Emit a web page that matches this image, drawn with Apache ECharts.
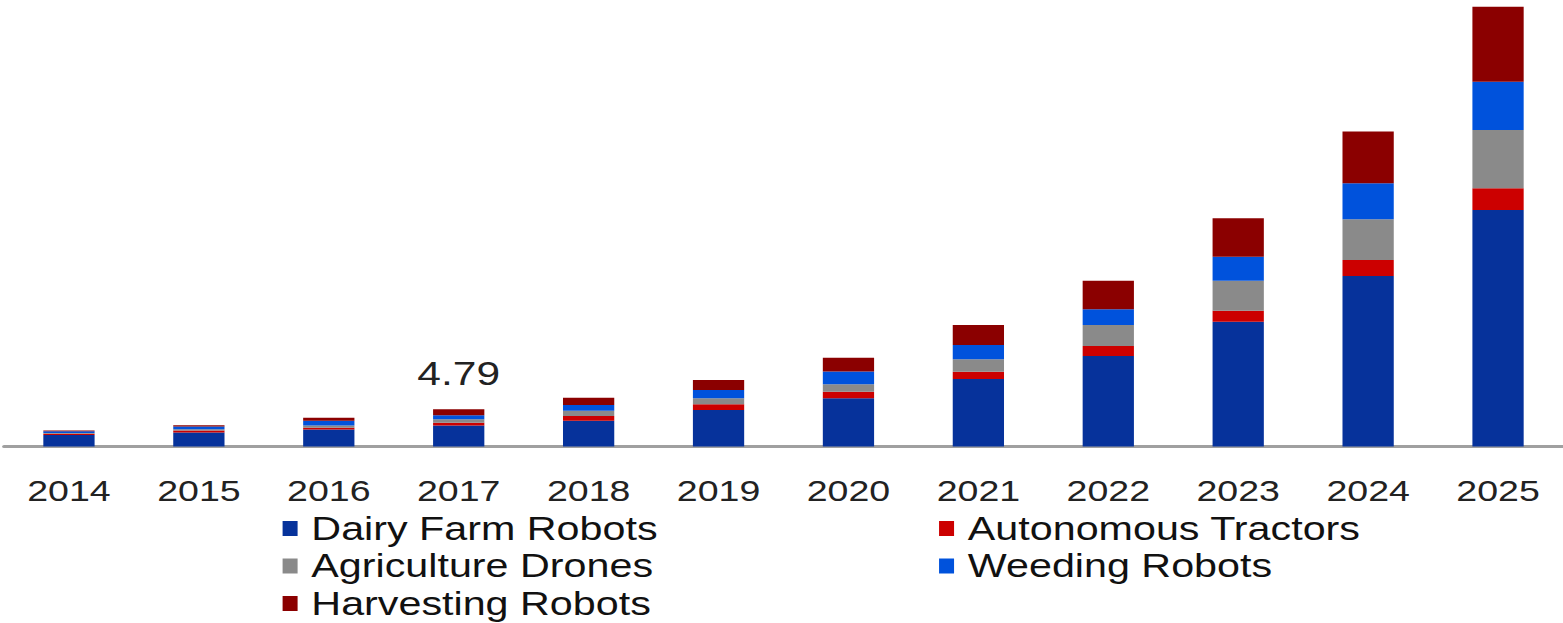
<!DOCTYPE html>
<html>
<head>
<meta charset="utf-8">
<script src="https://cdn.jsdelivr.net/npm/echarts@6/dist/echarts.min.js"></script>
<style>
  html, body { margin: 0; padding: 0; background: #ffffff; overflow: hidden; }
  #wrap { width: 1563px; height: 623px; overflow: hidden; position: relative; }
  #chart { width: 1250px; height: 623px; transform: scaleX(1.2504); transform-origin: 0 0; }
</style>
</head>
<body>
<div id="wrap"><div id="chart"></div></div>
<script>
const categories = ['2014','2015','2016','2017','2018','2019','2020','2021','2022','2023','2024','2025'];
const dairyFarmRobots     = [1.47, 1.79, 2.18, 2.70, 3.31, 4.68, 6.18, 8.65, 11.60, 16.00, 21.86, 30.32];
const autonomousTractors  = [0.15, 0.25, 0.22, 0.35, 0.60, 0.73, 0.85, 0.94, 1.28, 1.41, 2.05, 2.78];
const agricultureDrones   = [0.12, 0.18, 0.30, 0.45, 0.68, 0.77, 0.95, 1.59, 2.69, 3.85, 5.22, 7.47];
const weedingRobots       = [0.20, 0.34, 0.60, 0.50, 0.73, 1.06, 1.62, 1.83, 2.01, 3.08, 4.62, 6.19];
const harvestingRobots    = [0.11, 0.18, 0.40, 0.79, 0.94, 1.28, 1.79, 2.56, 3.67, 4.92, 6.62, 9.62];
const seriesNames = ['Dairy Farm Robots','Autonomous Tractors','Agriculture Drones','Weeding Robots','Harvesting Robots'];
const labelledCategory = '2017';

const FONT = '"Liberation Sans", Arial, sans-serif';
const colors = ['#06329b', '#cc0000', '#8a8a8a', '#0052dc', '#8b0000'];
const allSeries = [dairyFarmRobots, autonomousTractors, agricultureDrones, weedingRobots, harvestingRobots];
const li = categories.indexOf(labelledCategory);
const totalAtLabel = allSeries.reduce((s, arr) => s + arr[li], 0);

const series = allSeries.map((arr, k) => ({
  name: seriesNames[k],
  type: 'bar',
  stack: 'total',
  barWidth: 41,
  itemStyle: { color: colors[k] },
  data: arr.map((v, i) => {
    if (k === allSeries.length - 1 && i === li) {
      return {
        value: v,
        label: {
          show: true, position: 'top', distance: 19,
          formatter: totalAtLabel.toFixed(2),
          fontFamily: FONT, fontSize: 34, color: '#222222'
        }
      };
    }
    return v;
  })
}));

const legendCommon = {
  orient: 'vertical',
  padding: 0,
  itemWidth: 12,
  itemHeight: 15,
  itemGap: 4.5,
  icon: 'rect',
  selectedMode: false,
  textStyle: { fontFamily: FONT, fontSize: 33, color: '#111111', lineHeight: 33, padding: [0, 0, 0, 6] }
};

const chart = echarts.init(document.getElementById('chart'), null, { renderer: 'svg' });
chart.setOption({
  animation: false,
  backgroundColor: '#ffffff',
  grid: { left: 3.2, right: 0, top: 0, bottom: 176.5, containLabel: false },
  legend: [
    Object.assign({}, legendCommon, { left: 226, top: 512, data: [seriesNames[0], seriesNames[2], seriesNames[4]] }),
    Object.assign({}, legendCommon, { left: 751, top: 512, data: [seriesNames[1], seriesNames[3]] })
  ],
  xAxis: {
    type: 'category',
    data: categories,
    axisLine: { show: true, lineStyle: { color: '#a0a0a0', width: 3 } },
    axisTick: { show: false },
    axisLabel: { fontFamily: FONT, fontSize: 30, color: '#222222', margin: 29 }
  },
  yAxis: {
    type: 'value',
    min: 0,
    max: 57.24,
    show: false,
    splitLine: { show: false }
  },
  series: series
});
</script>
</body>
</html>
